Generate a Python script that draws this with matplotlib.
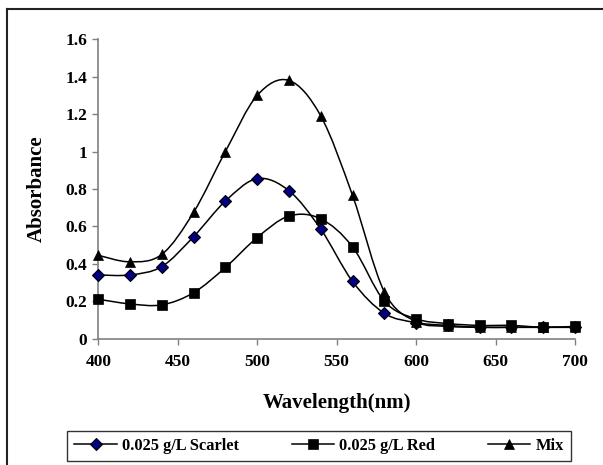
import numpy as np
import matplotlib
matplotlib.use('Agg')
import matplotlib.pyplot as plt
from matplotlib.path import Path
from matplotlib.patches import PathPatch
from matplotlib.lines import Line2D
from matplotlib.ticker import FuncFormatter

# Valores
wavelength = [400, 420, 440, 460, 480, 500, 520, 540, 560, 580, 600, 620, 640, 660, 680, 700]
scarlet = [0.34, 0.34, 0.385, 0.545, 0.735, 0.855, 0.79, 0.585, 0.305, 0.135, 0.085, 0.07, 0.06, 0.06, 0.06, 0.06]
red = [0.21, 0.185, 0.18, 0.245, 0.38, 0.54, 0.655, 0.64, 0.49, 0.20, 0.105, 0.08, 0.07, 0.07, 0.06, 0.065]
mix = [0.445, 0.41, 0.45, 0.675, 1.0, 1.3, 1.38, 1.19, 0.765, 0.25, 0.09, 0.065, 0.06, 0.06, 0.06, 0.06]

labels = ['0.025 g/L Scarlet', '0.025 g/L Red', 'Mix']
x_ticks = [400, 450, 500, 550, 600, 650, 700]
y_ticks = [0, 0.2, 0.4, 0.6, 0.8, 1.0, 1.2, 1.4, 1.6]

plt.rcParams['font.family'] = ['Liberation Serif', 'DejaVu Serif']
plt.rcParams['font.weight'] = 'bold'


def curva_suave(x, y):
    """Curva tipo Excel (Bezier com tangentes Catmull-Rom)."""
    pts = np.column_stack([x, y]).astype(float)
    n = len(pts)
    verts = [pts[0]]
    codes = [Path.MOVETO]
    for i in range(n - 1):
        p0 = pts[i - 1] if i > 0 else pts[i]
        p1 = pts[i]
        p2 = pts[i + 1]
        p3 = pts[i + 2] if i + 2 < n else pts[i + 1]
        verts += [p1 + (p2 - p0) / 6, p2 - (p3 - p1) / 6, p2]
        codes += [Path.CURVE4] * 3
    return Path(verts, codes)


fig = plt.figure(figsize=(6.03, 4.65), dpi=100)
ax = fig.add_axes([0.163, 0.272, 0.7906, 0.6435])

estilos = [
    dict(marker='D', ms=6, mfc='#000080', mec='black', mew=0.8),
    dict(marker='s', ms=6.5, mfc='black', mec='black', mew=0.5),
    dict(marker='^', ms=7.5, mfc='black', mec='black', mew=0.5),
]

handles = []
for serie, est, lab in zip([scarlet, red, mix], estilos, labels):
    patch = PathPatch(curva_suave(wavelength, serie), facecolor='none',
                      edgecolor='black', lw=1.1, zorder=2)
    ax.add_patch(patch)
    ax.plot(wavelength, serie, linestyle='none', zorder=3, clip_on=False, **est)
    handles.append(Line2D([], [], color='black', lw=1.1, **est))

ax.set_xlim(400, 700)
ax.set_ylim(0, 1.6)
ax.set_xticks(x_ticks)
ax.set_yticks(y_ticks)
ax.yaxis.set_major_formatter(FuncFormatter(lambda v, p: f"{v:g}"))

for s in ['top', 'right']:
    ax.spines[s].set_visible(False)
for s in ['left', 'bottom']:
    ax.spines[s].set_color('#808080')
    ax.spines[s].set_linewidth(1.2)

ax.tick_params(axis='both', direction='out', length=4, width=1, color='#808080',
               labelsize=12.5)
ax.tick_params(axis='x', pad=7)
ax.tick_params(axis='y', pad=4)
for t in ax.get_xticklabels() + ax.get_yticklabels():
    t.set_fontweight('bold')

ax.set_xlabel('Wavelength(nm)', fontsize=15, fontweight='bold', va='center')
ax.xaxis.set_label_coords(0.5, -0.2156)
ax.set_ylabel('Absorbance', fontsize=15, fontweight='bold', va='center')
ax.yaxis.set_label_coords(-0.1286, 0.5)

leg = fig.legend(handles, labels, loc='center', ncol=3, mode='expand',
                 bbox_to_anchor=(67 / 603, 1 - 463 / 465, 504 / 603, 34 / 465),
                 frameon=True, fancybox=False, handlelength=2.6, handletextpad=0.3,
                 borderaxespad=0, borderpad=0.45, columnspacing=2.9,
                 prop={'weight': 'bold', 'size': 11.8})
leg.get_frame().set_edgecolor('black')
leg.get_frame().set_linewidth(1.0)

# Borda externa da área do gráfico (cortada à direita e embaixo)
fig.add_artist(Line2D([7 / 603, 1.0], [1 - 9 / 465, 1 - 9 / 465], color='#222222', lw=1.5,
                      transform=fig.transFigure))
fig.add_artist(Line2D([7 / 603, 7 / 603], [0, 1 - 9 / 465], color='#222222', lw=1.5,
                      transform=fig.transFigure))

fig.savefig('out.png', dpi=100)
